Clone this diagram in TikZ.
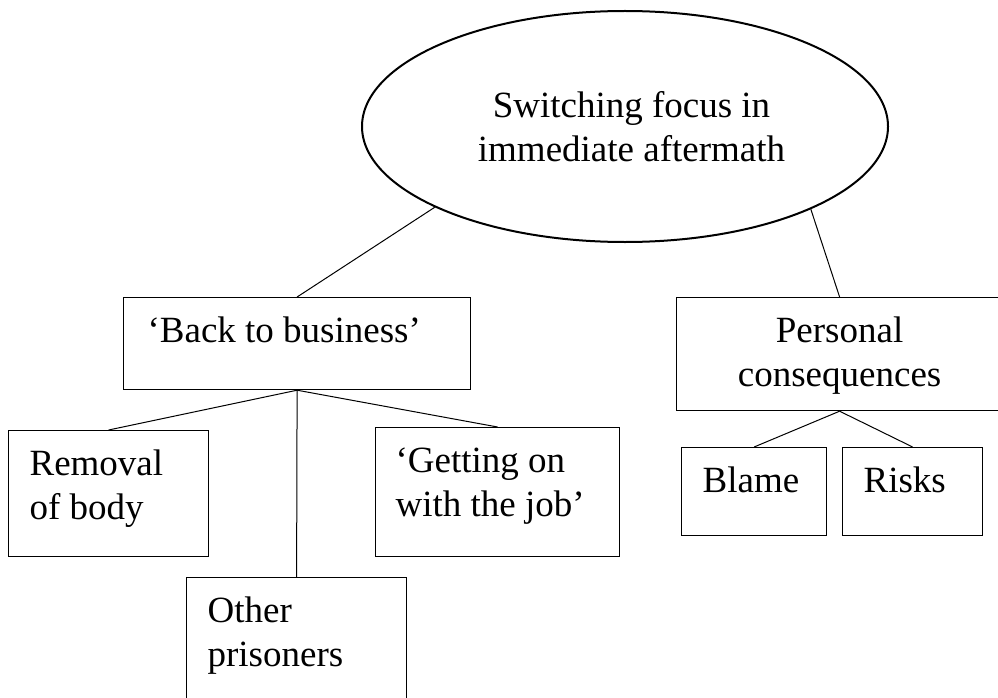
\documentclass[tikz,border=0pt]{standalone}
\usepackage{fontspec}
\setmainfont{Liberation Serif}
\usetikzlibrary{shapes.geometric}

% Fixed-size box contents: first baseline 45pt below the top edge,
% text set ragged right after a left margin (#3).
\newcommand\boxedtext[4]{%
  \parbox[c][#2][t]{#1}{\raggedright\leftskip=#3\relax
    \rule{0pt}{45pt}#4}}
\newcommand\centredtext[3]{%
  \parbox[c][#2][t]{#1}{\centering
    \rule{0pt}{45pt}#3}}

\tikzset{
  bigfont/.style={font=\fontsize{37}{44}\selectfont},
  topic/.style={draw, ellipse, line width=2pt, inner sep=0pt,
    minimum width=526pt, minimum height=231pt, align=center, bigfont},
  textbox/.style={draw, line width=1.2pt, inner sep=0pt, anchor=north west, bigfont},
  link/.style={line width=1pt}
}

\begin{document}
\begin{tikzpicture}[x=1pt, y=-1pt]
  \useasboundingbox (0,0) rectangle (998,698);
  \clip (0,0) rectangle (998,698);

  % central theme (text sits a little right of the ellipse centre)
  \node[topic] (ell) at (625,126.5)
    {\hspace*{13pt}Switching focus in\\\hspace*{13pt}immediate aftermath};

  % first level
  \node[textbox] (back) at (123,297)
    {\boxedtext{347pt}{92pt}{24pt}{‘Back to business’}};
  \node[textbox] (pers) at (676,297)
    {\centredtext{326pt}{113pt}{Personal\\consequences}};

  % second level under 'Back to business'
  \node[textbox] (rem) at (8,430)
    {\boxedtext{200pt}{126pt}{21pt}{Removal\\of body}};
  \node[textbox] (job) at (375,427)
    {\boxedtext{244pt}{129pt}{20pt}{‘Getting on\\with the job’}};
  \node[textbox] (oth) at (186,577)
    {\boxedtext{220pt}{140pt}{21pt}{Other\\prisoners}};

  % second level under 'Personal consequences'
  \node[textbox] (blame) at (681,447)
    {\boxedtext{145pt}{88pt}{21pt}{Blame}};
  \node[textbox] (risks) at (842,447)
    {\boxedtext{140pt}{88pt}{21pt}{Risks}};

  % connectors
  \draw[link] (ell.203.5) -- (back.north);
  \draw[link] (ell.336.5) -- (pers.north);
  \draw[link] (back.south) -- (rem.north);
  \draw[link] (back.south) -- (oth.north);
  \draw[link] (back.south) -- (job.north);
  \draw[link] (pers.south) -- (blame.north);
  \draw[link] (pers.south) -- (risks.north);
\end{tikzpicture}
\end{document}
